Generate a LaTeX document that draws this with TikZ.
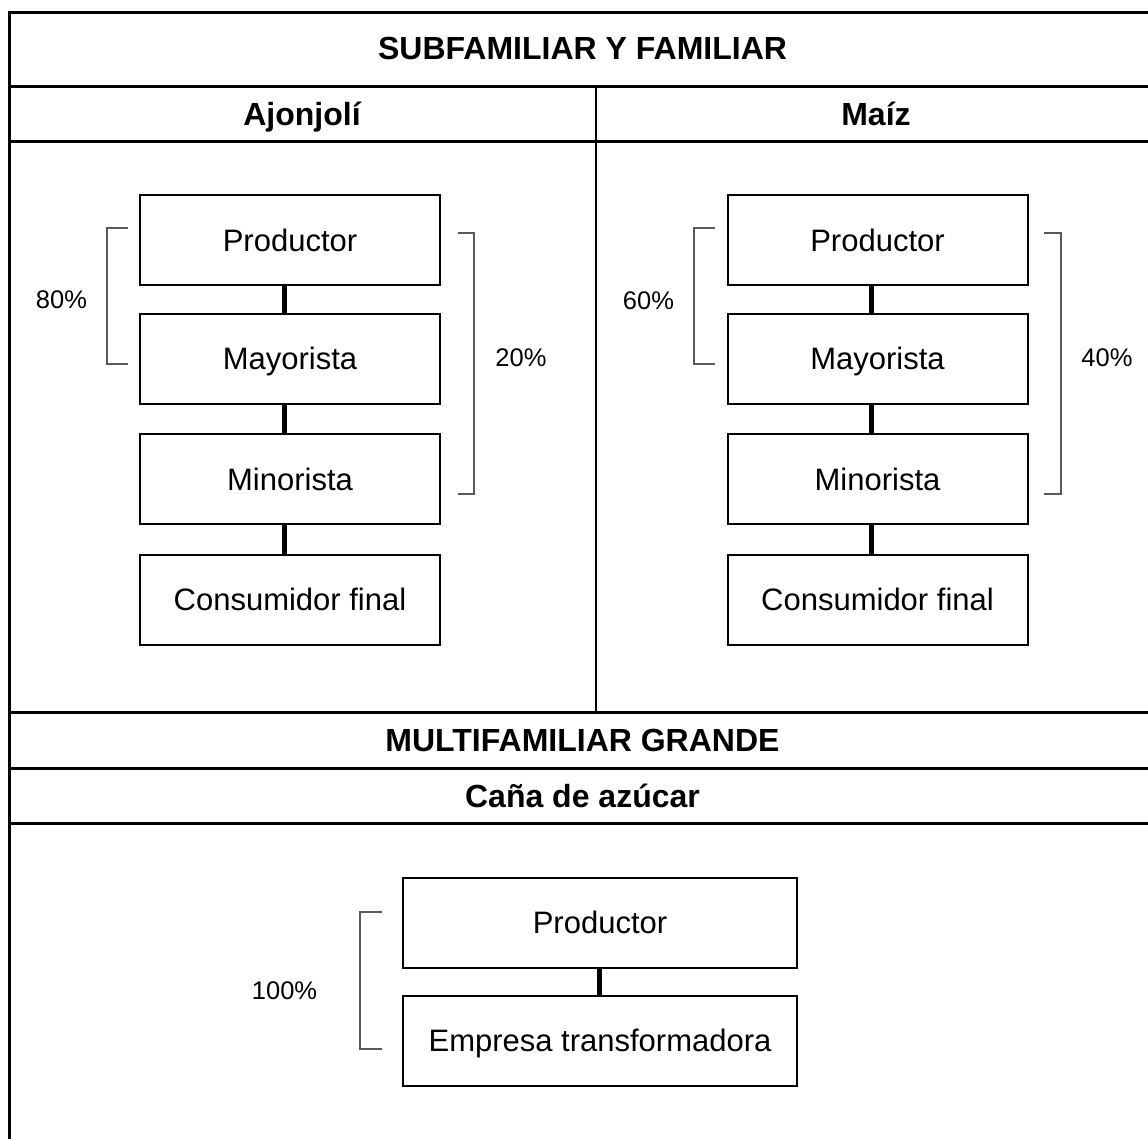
\documentclass[tikz,border=0pt]{standalone}
\usepackage{fontspec}
\setmainfont{Liberation Sans}
\begin{document}
\begin{tikzpicture}[x=1pt,y=-1pt,
  gridline/.style={line width=3pt,black},
  flowbox/.style={draw=black,line width=2pt,minimum width=300pt,minimum height=90pt,inner sep=0pt,
    font=\fontsize{31}{36}\selectfont,text height=22.3pt,text depth=0pt},
  widebox/.style={flowbox,minimum width=394pt},
  link/.style={line width=5pt,black},
  brace/.style={line width=1.5pt,black!65},
  head/.style={font=\bfseries\fontsize{32}{38}\selectfont,text height=23pt,text depth=0pt,inner sep=0pt},
  pct/.style={font=\fontsize{25.5}{30}\selectfont,text height=18.4pt,text depth=0pt,inner sep=0pt}]
\useasboundingbox (0,0) rectangle (1148,1138);
\clip (0,0) rectangle (1148,1138);
\fill[white] (0,0) rectangle (1148,1138);
% table
\draw[gridline] (1156,12) -- (9,12) -- (9,1160);
\draw[gridline] (9,86) -- (1156,86);
\draw[gridline] (9,141) -- (1156,141);
\draw[gridline] (9,712) -- (1156,712);
\draw[gridline] (9,768) -- (1156,768);
\draw[gridline] (9,823) -- (1156,823);
\draw[gridline] (1156,12) -- (1156,1160);
\draw[line width=2.5pt] (596,86) -- (596,712);
% headings
\node[head] (h1) at (582.5,48) {SUBFAMILIAR Y FAMILIAR};
\node[head] (h2) at (302,113.5) {Ajonjolí};
\node[head] (h3) at (876,113.5) {Maíz};
\node[head] (h4) at (582.5,740) {MULTIFAMILIAR GRANDE};
\node[head] (h5) at (582.5,795.5) {Caña de azúcar};
% left column
\node[flowbox] (lp) at (290,240) {Productor};
\node[flowbox] (lmay) at (290,358.5) {Mayorista};
\node[flowbox] (lmin) at (290,479) {Minorista};
\node[flowbox] (lc) at (290,599.5) {Consumidor final};
\draw[link] ([xshift=-6pt]lp.south) -- ([xshift=-6pt]lmay.north);
\draw[link] ([xshift=-6pt]lmay.south) -- ([xshift=-6pt]lmin.north);
\draw[link] ([xshift=-6pt]lmin.south) -- ([xshift=-6pt]lc.north);
\draw[brace] (128,228) -- (107,228) -- (107,364) -- (128,364);
\draw[brace] (458,233) -- (474,233) -- (474,494) -- (458,494);
\node[pct] (p80) at (61.5,299) {80\%};
\node[pct] (p20) at (521,357) {20\%};
% right column
\node[flowbox] (rp) at (877.5,240) {Productor};
\node[flowbox] (rmay) at (877.5,358.5) {Mayorista};
\node[flowbox] (rmin) at (877.5,479) {Minorista};
\node[flowbox] (rc) at (877.5,599.5) {Consumidor final};
\draw[link] ([xshift=-6pt]rp.south) -- ([xshift=-6pt]rmay.north);
\draw[link] ([xshift=-6pt]rmay.south) -- ([xshift=-6pt]rmin.north);
\draw[link] ([xshift=-6pt]rmin.south) -- ([xshift=-6pt]rc.north);
\draw[brace] (715,228) -- (694,228) -- (694,364) -- (715,364);
\draw[brace] (1044,233) -- (1061,233) -- (1061,494) -- (1044,494);
\node[pct] (p60) at (648.5,300) {60\%};
\node[pct] (p40) at (1107,357) {40\%};
% bottom
\node[widebox] (bp) at (600,922.5) {Productor};
\node[widebox] (be) at (600,1040.5) {Empresa transformadora};
\draw[link] ([xshift=-1pt]bp.south) -- ([xshift=-1pt]be.north);
\draw[brace] (382,912) -- (360,912) -- (360,1049) -- (382,1049);
\node[pct] (p100) at (284.5,990) {100\%};
\end{tikzpicture}
\end{document}
